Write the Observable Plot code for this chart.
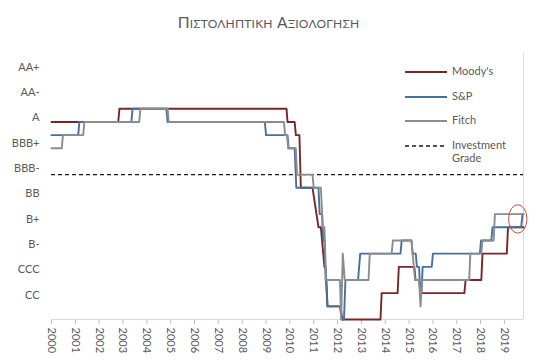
<!DOCTYPE html>
<html>
<head>
<meta charset="utf-8">
<script src="https://cdn.jsdelivr.net/npm/d3@7"></script>
<script src="https://cdn.jsdelivr.net/npm/@observablehq/plot@0.6"></script>
<style>
  body { margin: 0; background: #fff; }
  #wrap { position: relative; width: 537px; height: 362px; font-family: Lato, "Open Sans", sans-serif; color: #595959; }
  #title { height: 40px; text-align: center; box-sizing: border-box; padding-top: 14px; line-height: 16px; letter-spacing: 0.2px; }
  #title .big { font-size: 15.5px; }
  #title .small { font-size: 12px; }
  .lg { position: absolute; left: 405px; font-size: 11px; color: #595959; }
  .lg svg { position: absolute; left: 0; }
  .lg span { position: absolute; left: 47px; white-space: nowrap; line-height: 12.6px; }
</style>
</head>
<body>
<div id="wrap">
  <div id="title"><span class="big">Π</span><span class="small">ΙΣΤΟΛΗΠΤΙΚΗ</span> <span class="big">Α</span><span class="small">ΞΙΟΛΟΓΗΣΗ</span></div>
  <div id="chart"></div>
  <div id="legend"></div>
</div>
<script>
// ---- data (rating notches: 1 = C/SD/RD, 2 = CC, ... 16 = A, 17 = A+) ----
const years = [2000,2001,2002,2003,2004,2005,2006,2007,2008,2009,2010,2011,2012,2013,2014,2015,2016,2017,2018,2019];
const yLabels = ["AA+","AA-","A","BBB+","BBB-","BB","B+","B-","CCC","CC"];
const yLabelNotch = [20,18,16,14,12,10,8,6,4,2];
const investmentGrade = 12; // BBB-

const moodysDate = [2000.00,2002.80,2002.85,2009.86,2009.90,2010.20,2010.25,2010.40,2010.46,2010.95,2011.20,2011.30,2011.45,2011.50,2011.58,2012.12,2012.20,2013.80,2013.85,2014.52,2014.57,2015.22,2015.27,2015.42,2015.48,2017.32,2017.37,2018.03,2018.08,2019.10,2019.15,2019.80];
const moodysNotch = [16,16,17,17,16,16,15,15,11,11,8,8,5,5,2,2,1,1,3,3,5,5,4,4,3,3,4,4,6,6,8,8];

const spDate = [2000.00,2001.12,2001.17,2003.35,2003.40,2004.82,2004.87,2008.95,2009.00,2009.90,2009.95,2010.20,2010.27,2011.20,2011.25,2011.35,2011.40,2011.45,2011.50,2011.52,2011.57,2012.10,2012.17,2012.27,2012.33,2012.86,2012.95,2014.64,2014.69,2015.10,2015.15,2015.28,2015.33,2015.42,2015.47,2015.52,2015.57,2015.95,2016.00,2017.97,2018.02,2018.45,2018.50,2019.70,2019.76,2019.80];
const spNotch = [15,15,16,16,17,17,16,16,15,15,14,14,11,11,9,9,7,7,4,4,2,2,1,1,4,4,6,6,7,7,6,6,5,5,3,3,5,5,6,6,7,7,8,8,9,9];

const fitchDate = [2000.00,2000.43,2000.48,2001.33,2001.38,2003.68,2003.73,2004.87,2004.92,2009.75,2009.80,2009.88,2009.93,2010.25,2010.30,2010.95,2011.00,2011.30,2011.38,2011.45,2011.52,2012.10,2012.15,2012.22,2012.30,2013.30,2013.35,2014.27,2014.32,2015.10,2015.25,2015.42,2015.48,2015.55,2017.52,2017.57,2018.03,2018.08,2018.55,2018.60,2019.80];
const fitchNotch = [14,14,15,15,16,16,17,17,16,16,15,15,14,14,12,12,11,11,8,8,4,4,1,6,4,4,6,6,7,7,4,4,2,4,4,6,6,7,7,9,9];

const agencies = ["Moody's","S&P","Fitch"];
const colors = ["#7a2626","#46709e","#8c8c8c"];

// ---- build table ----
const rows = [];
[[moodysDate, moodysNotch], [spDate, spNotch], [fitchDate, fitchNotch]].forEach(([d, v], k) => {
  d.forEach((t, i) => rows.push({agency: agencies[k], t, v: v[i]}));
});

// the original's y labels sit on an evenly spaced axis slightly offset from the notch levels
const axisCal = n => 2.85 + (n - 2) * 0.9617;
const yTicks = yLabelNotch.map(axisCal);
const tickLabel = new Map(yTicks.map((t, i) => [t, yLabels[i]]));

const chart = Plot.plot({
  width: 537,
  height: 322,
  marginLeft: 51,
  marginRight: 14,
  marginTop: 13,
  marginBottom: 43,
  style: {fontFamily: "Lato, 'Open Sans', sans-serif", fontSize: "11px", color: "#595959", background: "white", overflow: "visible"},
  x: {domain: [2000, 2019.8], ticks: years, tickFormat: d => String(d), tickRotate: 90, tickSize: 5, tickPadding: 3, label: null},
  y: {domain: [1, 21.2], ticks: yTicks, tickFormat: d => tickLabel.get(d), tickSize: 0, tickPadding: 12, label: null},
  color: {domain: agencies, range: colors},
  marks: [
    Plot.ruleY([1], {stroke: "#d9d9d9", strokeWidth: 1}),
    Plot.ruleX([2019.8], {stroke: "#d9d9d9", strokeWidth: 1}),
    Plot.ruleY([investmentGrade], {stroke: "#1a1a1a", strokeWidth: 1.4, strokeDasharray: "4,3"}),
    Plot.line(rows, {x: "t", y: "v", z: "agency", stroke: "agency", strokeWidth: 1.9, curve: "linear"})
  ]
});
document.getElementById("chart").appendChild(chart);

// restyle x tick marks light grey
chart.querySelectorAll('[aria-label="x-axis"] line, [aria-label="x-axis"] path, [aria-label="x-axis tick"] path').forEach(el => el.setAttribute("stroke", "#bfbfbf"));

// red ellipse highlighting the latest upgrade
try {
  const sx = chart.scale("x"), sy = chart.scale("y");
  const cx = sx.apply(2019.58), cy = sy.apply(8.6);
  d3.select(chart).append("ellipse")
    .attr("cx", cx).attr("cy", cy).attr("rx", 9.2).attr("ry", 14.2)
    .attr("fill", "none").attr("stroke", "#c0504d").attr("stroke-width", 1);
} catch (e) {}

// legend
const legendItems = [
  {name: "Moody's", color: colors[0], dash: null},
  {name: "S&P", color: colors[1], dash: null},
  {name: "Fitch", color: colors[2], dash: null},
  {name: "Investment<br>Grade", color: "#1a1a1a", dash: "4,3"}
];
const lg = document.getElementById("legend");
legendItems.forEach((it, i) => {
  const cy = 71.7 + i * 24.8;
  const d = document.createElement("div");
  d.className = "lg";
  d.style.top = cy + "px";
  d.innerHTML = `<svg width="44" height="4" style="top:-2px"><line x1="0" x2="42" y1="2" y2="2" stroke="${it.color}" stroke-width="${it.dash ? 1.4 : 1.9}" ${it.dash ? `stroke-dasharray="${it.dash}"` : ""}/></svg>` +
    `<span style="top:${-7}px">${it.name}</span>`;
  lg.appendChild(d);
});
</script>
</body>
</html>
